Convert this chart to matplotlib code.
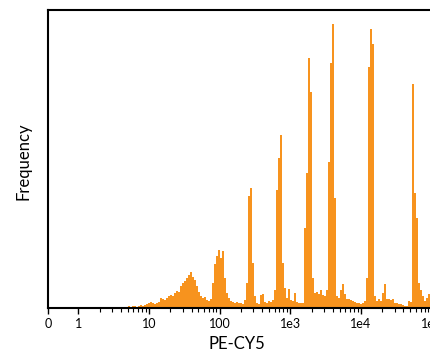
import numpy as np
import matplotlib.pyplot as plt
from matplotlib.ticker import FixedLocator, NullFormatter

plt.rcParams['font.family'] = ['Lato', 'DejaVu Sans']

# histogram heights (frequency, arbitrary units), one per channel bin
freq = [0, 0, 1, 0, 0, 0, 0, 0, 0, 0, 0, 1, 1, 0, 0, 0, 0, 0, 0, 0,
        1, 0, 1, 0, 0, 1, 0, 0, 1, 0, 0, 1, 1, 0, 1, 1, 1, 1, 1, 1,
        2, 1, 2, 2, 1, 2, 3, 2, 3, 4, 5, 6, 5, 4, 5, 6, 10, 9, 8, 10,
        12, 13, 12, 15, 17, 16, 22, 25, 27, 30, 33, 36, 31, 28, 22, 16, 12, 10, 11, 8,
        7, 9, 25, 44, 52, 58, 50, 57, 30, 15, 10, 7, 6, 5, 6, 5, 5, 4, 8, 25,
        112, 120, 45, 12, 5, 4, 13, 14, 6, 5, 7, 6, 8, 18, 118, 150, 173, 45, 20, 10,
        19, 8, 7, 15, 6, 5, 5, 5, 80, 135, 250, 216, 30, 15, 16, 14, 18, 13, 12, 18,
        146, 245, 284, 110, 12, 10, 18, 24, 14, 9, 9, 8, 7, 6, 5, 5, 4, 5, 7, 30,
        241, 279, 264, 12, 7, 9, 7, 15, 24, 9, 9, 8, 9, 5, 5, 4, 4, 3, 2, 2,
        7, 6, 224, 115, 90, 25, 18, 12, 7, 10, 14]

tick_values = [0, 1, 10, 100, 1e3, 1e4, 1e5]
tick_labels = ['0', '1', '10', '100', '1e3', '1e4', '1e5']

LIN = 0.432  # width of the 0..1 linear part, in decades
BINS_PER_DECADE = 35.3


def fwd(x):
    x = np.asarray(x, dtype=float)
    out = np.where(x <= 1, x * LIN, LIN + np.log10(np.maximum(x, 1)))
    return out


def inv(u):
    u = np.asarray(u, dtype=float)
    return np.where(u <= LIN, u / LIN, 10 ** (u - LIN))


# channel bins are evenly spaced on the transformed axis
edges = inv(np.arange(len(freq) + 1) / BINS_PER_DECADE)

fig = plt.figure(figsize=(4.3, 3.55), dpi=100)
ax = fig.add_axes([48 / 430, 47 / 355, 413 / 430, 298 / 355])
ax.set_xscale('function', functions=(fwd, inv))

ax.stairs(freq, edges, fill=True, color='#F7931E', linewidth=0)

ax.set_xlim(0, 262144)
ax.set_ylim(0, 298)

ax.xaxis.set_major_locator(FixedLocator(tick_values))
ax.set_xticklabels(tick_labels, fontsize=9)
minors = [m * 10 ** k for k in range(0, 6) for m in range(2, 10) if m * 10 ** k < 262144]
ax.xaxis.set_minor_locator(FixedLocator(minors))
ax.xaxis.set_minor_formatter(NullFormatter())
ax.tick_params(axis='x', which='major', direction='out', length=4, width=1, pad=3)
ax.tick_params(axis='x', which='minor', direction='out', length=3, width=0.8)
ax.set_yticks([])

for s in ['left', 'top', 'bottom']:
    ax.spines[s].set_linewidth(1.5)
ax.spines['right'].set_visible(False)

ax.set_xlabel('PE-CY5', fontsize=12)
ax.xaxis.set_label_coords((237 - 48) / 413, -0.095)
ax.set_ylabel('Frequency', fontsize=12)
ax.yaxis.set_label_coords(-0.041, 0.4916)

fig.savefig('out.png', dpi=100)
